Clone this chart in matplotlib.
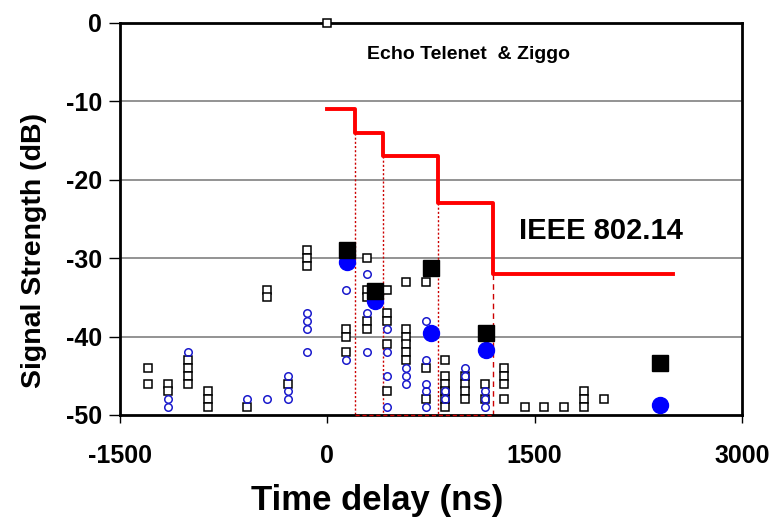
import matplotlib
matplotlib.use("Agg")
import matplotlib.pyplot as plt

plt.rcParams['font.family'] = ['Liberation Sans', 'DejaVu Sans']
plt.rcParams['font.weight'] = 'bold'
plt.rcParams['axes.unicode_minus'] = False

# measured echoes: (delay ns, level dB)
sq_x = [-1300, -1300, -1150, -1150, -1010, -1010, -1010, -1010, -866, -866, -866,
        -580, -436, -436, -287, -149, -149, -149, 135, 135, 135,
        285, 285, 285, 285, 285, 430, 430, 430, 430, 430,
        570, 570, 570, 570, 570, 570, 714, 714, 714,
        855, 855, 855, 855, 855, 855, 996, 996, 996, 996, 1141, 1141,
        1281, 1281, 1281, 1281, 1430, 1568, 1713, 1857, 1857, 1857, 2002]
sq_y = [-44, -46, -46, -47, -43, -44, -45, -46, -47, -48, -49,
        -49, -34, -35, -46, -29, -30, -31, -39, -40, -42,
        -30, -34, -35, -38, -39, -34, -37, -38, -41, -47,
        -33, -39, -40, -41, -42, -43, -33, -44, -48,
        -43, -45, -46, -47, -48, -49, -45, -46, -47, -48, -46, -48,
        -44, -45, -46, -48, -49, -49, -49, -47, -48, -49, -48]

ci_x = [-1150, -1150, -1010, -580, -436, -287, -287, -287,
        -149, -149, -149, -149, 135, 135, 285, 285, 285,
        430, 430, 430, 430, 570, 570, 570, 714, 714, 714, 714, 714,
        855, 855, 996, 996, 1141, 1141, 1141]
ci_y = [-48, -49, -42, -48, -48, -45, -47, -48,
        -37, -38, -39, -42, -34, -43, -32, -37, -42,
        -39, -42, -45, -49, -44, -45, -46, -38, -43, -46, -47, -49,
        -47, -48, -44, -45, -47, -48, -49]

# averaged levels
avg_x = [140, 345, 748, 1148, 2407]
avg_sq = [-29.0, -34.2, -31.2, -39.5, -43.4]
avg_ci = [-30.5, -35.5, -39.5, -41.7, -48.7]

# IEEE 802.14 mask
mask_x = [0, 200, 400, 800, 1200, 2500]
mask_y = [-11, -14, -17, -23, -32, -32]

fig, ax = plt.subplots(figsize=(7.78, 5.22), dpi=100)
fig.subplots_adjust(left=0.1542, right=0.9537, top=0.956, bottom=0.205)

ax.set_xlim(-1500, 3000)
ax.set_ylim(-50, 0)
ax.set_xticks([-1500, 0, 1500, 3000])
ax.set_yticks([0, -10, -20, -30, -40, -50])
for gy in [-10, -20, -30, -40]:
    ax.axhline(gy, color='#808080', lw=1.2, zorder=0)

# red guide lines under the mask steps
for i in range(1, 4):
    ax.plot([mask_x[i], mask_x[i]], [mask_y[i], -50], color='#cc0000', lw=1,
            ls=(0, (1.5, 1.5)), zorder=1)
ax.plot([mask_x[4], mask_x[4]], [mask_y[4], -50], color='#cc0000', lw=1,
        ls=(0, (4, 3)), zorder=1)
ax.plot([mask_x[1], mask_x[4]], [-50, -50], color='#cc0000', lw=1,
        ls=(0, (3, 2)), zorder=6, clip_on=False)

ax.plot(sq_x, sq_y, ls='none', marker='s', ms=5.6, mfc='white', mec='black',
        mew=1.1, zorder=3)
ax.plot(ci_x, ci_y, ls='none', marker='o', ms=5.4, mfc='none', mec='#1a1acc',
        mew=1.1, zorder=3)
ax.plot([0], [0], ls='none', marker='s', ms=5.6, mfc='white', mec='black',
        mew=1.1, zorder=7, clip_on=False)

ax.plot(mask_x, mask_y, drawstyle='steps-post', color='#ff0000', lw=2.8,
        zorder=4)

ax.plot(avg_x, avg_ci, ls='none', marker='o', ms=11.5, color='#0000ff',
        zorder=4)
ax.plot(avg_x, avg_sq, ls='none', marker='s', ms=12, color='black', zorder=5)

ax.text(1020, -4, 'Echo Telenet  & Ziggo', fontsize=14, fontweight='bold',
        ha='center', va='center')
ax.text(1980, -26.5, 'IEEE 802.14', fontsize=21, fontweight='bold',
        ha='center', va='center')

ax.set_xlabel('Time delay (ns)', fontsize=25, fontweight='bold')
ax.xaxis.set_label_coords(0.413, -0.175)
ax.set_ylabel('Signal Strength (dB)', fontsize=20.5, fontweight='bold')
ax.yaxis.set_label_coords(-0.118, 0.42)
ax.tick_params(axis='both', labelsize=18, width=1, direction='out')
ax.tick_params(axis='y', length=8, pad=5)
ax.tick_params(axis='x', length=6, pad=15)
for lab in ax.get_xticklabels() + ax.get_yticklabels():
    lab.set_fontweight('bold')
for s in ax.spines.values():
    s.set_linewidth(2)

fig.savefig('out.png', dpi=100)
